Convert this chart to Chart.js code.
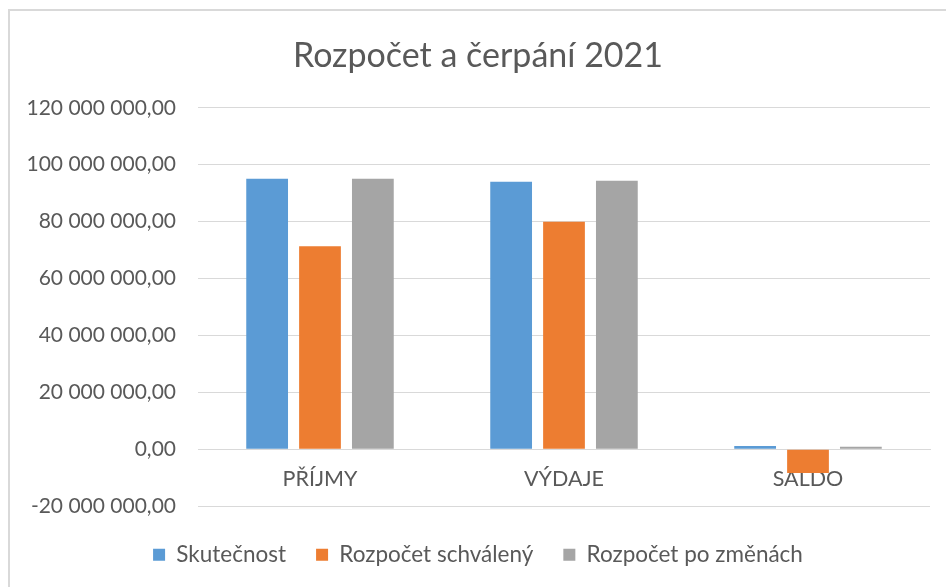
<!DOCTYPE html>
<html lang="cs">
<head>
<meta charset="utf-8">
<title>Rozpočet a čerpání 2021</title>
<script src="https://cdn.jsdelivr.net/npm/chart.js@4"></script>
<style>
    html, body { margin: 0; padding: 0; background: #fff; overflow: hidden; }
    #wrap { position: relative; width: 946px; height: 587px; }
    #frame {
        position: absolute; left: 8px; top: 9px;
        width: 960px; height: 600px;
        border: 2px solid #d9d9d9; box-sizing: border-box;
    }
    #chart { position: absolute; left: 0; top: 0; }
</style>
</head>
<body>
<div id="wrap">
    <div id="frame"></div>
    <canvas id="chart" width="946" height="587"></canvas>
</div>
<script>
/* Data */
const categories = ['PŘÍJMY', 'VÝDAJE', 'SALDO'];
const skutecnost = [95100000, 94000000, 1200000];
const rozpocetSchvaleny = [71400000, 80000000, -8300000];
const rozpocetPoZmenach = [95100000, 94400000, 950000];
const seriesNames = ['Skutečnost', 'Rozpočet schválený', 'Rozpočet po změnách'];
const yTicks = { min: -20000000, max: 120000000, step: 20000000 };

/* Styling */
const colors = {
    blue: '#5b9bd5',
    orange: '#ed7d31',
    gray: '#a5a5a5',
    text: '#595959',
    grid: '#d9d9d9'
};
const FONT = 'Lato, "Open Sans", sans-serif';

// Czech number format: "120 000 000,00"
function formatCz(v) {
    const sign = v < 0 ? '-' : '';
    const parts = Math.abs(v).toFixed(2).split('.');
    const intPart = parts[0].replace(/\B(?=(\d{3})+(?!\d))/g, ' ');
    return sign + intPart + ',' + parts[1];
}

const barOpts = { categoryPercentage: 0.65, barPercentage: 0.79 };

new Chart(document.getElementById('chart'), {
    type: 'bar',
    data: {
        labels: categories,
        datasets: [
            { label: seriesNames[0], data: skutecnost, backgroundColor: colors.blue, ...barOpts },
            { label: seriesNames[1], data: rozpocetSchvaleny, backgroundColor: colors.orange, ...barOpts },
            { label: seriesNames[2], data: rozpocetPoZmenach, backgroundColor: colors.gray, ...barOpts }
        ]
    },
    options: {
        responsive: false,
        animation: false,
        layout: { padding: { top: 36, right: 16, bottom: 11, left: 26 } },
        scales: {
            x: {
                position: { y: 0 },
                grid: { display: false },
                border: { color: colors.grid, width: 1 },
                ticks: { color: colors.text, font: { family: FONT, size: 21.5 }, padding: 9 }
            },
            y: {
                min: yTicks.min,
                max: yTicks.max,
                border: { display: false },
                grid: { color: colors.grid, lineWidth: 1, drawTicks: false },
                ticks: {
                    stepSize: yTicks.step,
                    color: colors.text,
                    font: { family: FONT, size: 21 },
                    padding: 22,
                    callback: v => formatCz(v)
                },
                afterFit: scale => { scale.width = 172; }
            }
        },
        plugins: {
            title: {
                display: true,
                text: 'Rozpočet a čerpání 2021',
                color: colors.text,
                font: { family: FONT, size: 34, weight: 'normal' },
                padding: { top: 0, bottom: 31 }
            },
            legend: {
                position: 'bottom',
                // empty legend title only adds a small gap above the legend row
                title: { display: true, text: '', font: { size: 1 }, padding: { top: 3, bottom: 3 } },
                labels: {
                    color: colors.text,
                    font: { family: FONT, size: 22.5 },
                    boxWidth: 12,
                    boxHeight: 12,
                    padding: 30
                }
            },
            tooltip: { enabled: false }
        }
    }
});
</script>
</body>
</html>
